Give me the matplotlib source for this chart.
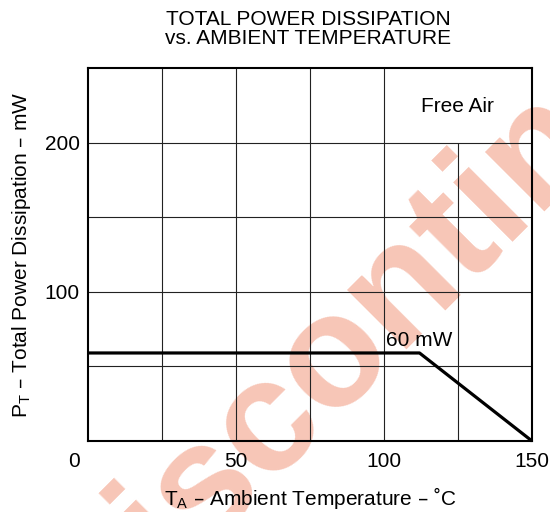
import matplotlib
matplotlib.use('Agg')
import matplotlib.pyplot as plt
from matplotlib.transforms import ScaledTranslation

plt.rcParams['font.family'] = ['Liberation Sans', 'DejaVu Sans']

# derating curve
temp_c = [0, 112, 150]
power_mw = [59, 59, 0]

x_ticks = [0, 50, 100, 150]
y_ticks = [100, 200]
grid_x = [25, 50, 75, 100, 125]
grid_x_top = [250, 250, 250, 250, 200]   # the 125 line stops under "Free Air"
grid_y = [50, 100, 150, 200]

fig = plt.figure(figsize=(5.5, 5.12), dpi=100)
ax = fig.add_axes([88/550, 1 - 441/512, 444/550, 373/512])
ax.set_xlim(0, 150)
ax.set_ylim(0, 250)

# grid
ax.vlines(grid_x, 0, grid_x_top, color='#222222', lw=0.8, zorder=1)
ax.hlines(grid_y, 0, 150, color='#222222', lw=0.8, zorder=1)

# curve
ax.plot(temp_c, power_mw, color='black', lw=2.3, zorder=3, clip_on=False,
        solid_capstyle='butt')

ax.text(124.7, 224, 'Free Air', fontsize=15, ha='center', va='center', zorder=4)
ax.text(112, 67.5, '60 mW', fontsize=15, ha='center', va='center', zorder=4)

# watermark
ax.text(417/550, 1 - 270/512, 'Discontinued', transform=fig.transFigure,
        fontsize=115, fontweight='bold', color='#F7C6B7', rotation=45,
        ha='center', va='center', zorder=0.5, clip_on=False)

ax.set_xticks(x_ticks)
ax.set_yticks(y_ticks)
ax.tick_params(length=0, labelsize=15, pad=6)
ax.tick_params(axis='x', pad=8)
# the "0" sits out at the corner, left of the axis
lbl = ax.xaxis.get_major_ticks()[0].label1
lbl.set_transform(lbl.get_transform() + ScaledTranslation(-14/100, 0, fig.dpi_scale_trans))

for s in ax.spines.values():
    s.set_linewidth(1.5)
    s.set_zorder(5)

ax.set_xlabel(r'T$_\mathregular{A}$ – Ambient Temperature – ˚C', fontsize=15, labelpad=10)
ax.set_ylabel(r'P$_\mathregular{T}$ – Total Power Dissipation – mW', fontsize=15, labelpad=8)

fig.text(308/550, 1 - 29/512, 'TOTAL POWER DISSIPATION\nvs. AMBIENT TEMPERATURE',
         ha='center', va='center', fontsize=15, linespacing=1.0)

fig.savefig('out.png', dpi=100)
